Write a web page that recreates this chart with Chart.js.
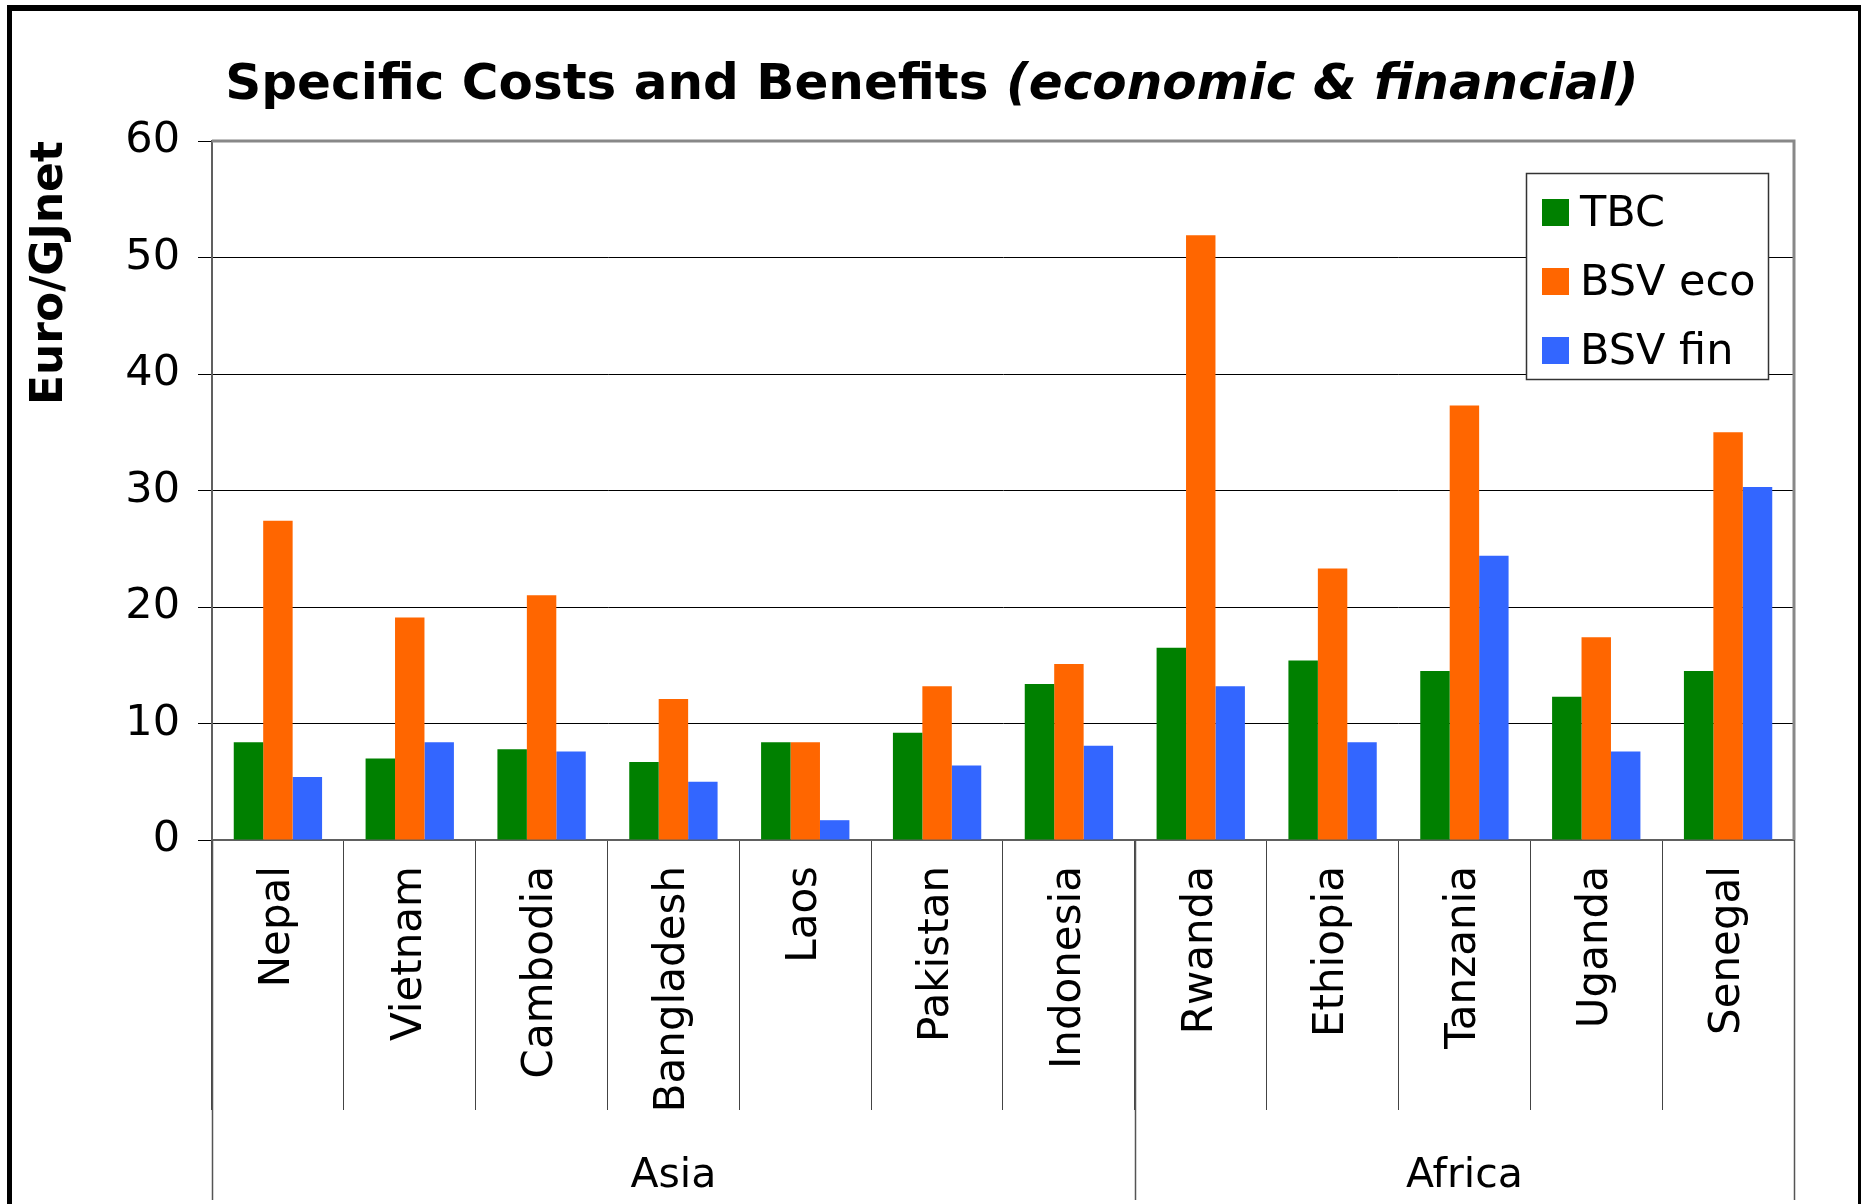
<!DOCTYPE html>
<html><head><meta charset="utf-8">
<script src="https://cdn.jsdelivr.net/npm/chart.js@4.4.1/dist/chart.umd.min.js"></script>
<style>html,body{margin:0;padding:0;background:#fff;} canvas{display:block;}</style>
</head><body>
<canvas id="c" width="1862" height="1204"></canvas>
<script>
// ---- data ----
const categories = ['Nepal','Vietnam','Cambodia','Bangladesh','Laos','Pakistan','Indonesia','Rwanda','Ethiopia','Tanzania','Uganda','Senegal'];
const regions = ['Asia','Africa'];
const regionSizes = [7, 5];
const seriesNames = ['TBC','BSV eco','BSV fin'];
const tbc    = [8.4, 7.0, 7.8, 6.7, 8.4, 9.2, 13.4, 16.5, 15.4, 14.5, 12.3, 14.5];
const bsvEco = [27.4, 19.1, 21.0, 12.1, 8.4, 13.2, 15.1, 51.9, 23.3, 37.3, 17.4, 35.0];
const bsvFin = [5.4, 8.4, 7.6, 5.0, 1.7, 6.4, 8.1, 13.2, 8.4, 24.4, 7.6, 30.3];
const yTicks = [0, 10, 20, 30, 40, 50, 60];
const titleMain = 'Specific Costs and Benefits ';
const titleItalic = '(economic & financial)';
const yTitle = 'Euro/GJnet';

const FONT = "'DejaVu Sans', Verdana, sans-serif";
const colors = ['#008000', '#FF6600', '#3366FF'];

const decorPlugin = {
  id: 'decor',
  beforeDraw(chart) {
    const c = chart.ctx;
    c.save(); c.fillStyle = '#fff'; c.fillRect(0, 0, chart.width, chart.height); c.restore();
  },
  afterDraw(chart) {
    const c = chart.ctx, a = chart.chartArea, xs = chart.scales.x;
    c.save();
    // plot area top / right border
    c.strokeStyle = '#888'; c.lineWidth = 3;
    c.beginPath(); c.moveTo(a.left, a.top); c.lineTo(a.right, a.top); c.lineTo(a.right, a.bottom); c.stroke();

    // region (group) separators and labels
    const half = (xs.getPixelForValue(1) - xs.getPixelForValue(0)) / 2;
    c.strokeStyle = '#555'; c.lineWidth = 1.5;
    c.font = '41px ' + FONT; c.fillStyle = '#000'; c.textAlign = 'center'; c.textBaseline = 'alphabetic';
    let start = 0;
    const bounds = [xs.getPixelForValue(0) - half];
    regionSizes.forEach((n, i) => {
      const x0 = xs.getPixelForValue(start) - half;
      const x1 = xs.getPixelForValue(start + n - 1) + half;
      c.fillText(regions[i], (x0 + x1) / 2, 1187);
      bounds.push(x1);
      start += n;
    });
    bounds.forEach(x => {
      const xx = Math.round(x) + 0.5;
      c.beginPath(); c.moveTo(xx, a.bottom); c.lineTo(xx, 1200); c.stroke();
    });

    // title (bold + bold italic)
    c.textAlign = 'left'; c.textBaseline = 'alphabetic';
    const f1 = 'bold 50px ' + FONT, f2 = 'italic bold 50px ' + FONT;
    c.font = f1; const w1 = c.measureText(titleMain).width;
    c.font = f2; const w2 = c.measureText(titleItalic).width;
    const tx = 932 - (w1 + w2) / 2;
    c.font = f1; c.fillText(titleMain, tx, 99);
    c.font = f2; c.fillText(titleItalic, tx + w1, 99);

    // legend
    const lx = 1526, ly = 173, lw = 242, lh = 206;
    c.fillStyle = '#fff'; c.fillRect(lx, ly, lw, lh);
    c.strokeStyle = '#333'; c.lineWidth = 1.5; c.strokeRect(lx + 0.5, ly + 0.5, lw, lh);
    c.font = '43px ' + FONT; c.textBaseline = 'alphabetic'; c.textAlign = 'left';
    chart.data.datasets.forEach((ds, i) => {
      const y = 199 + i * 69;
      c.fillStyle = ds.backgroundColor; c.fillRect(1542, y, 27, 27);
      c.fillStyle = '#000'; c.fillText(ds.label, 1580, y + 27);
    });

    // outer frame
    c.fillStyle = '#000';
    c.fillRect(7, 5, 1854, 6);
    c.fillRect(7, 5, 5, 1199);
    c.fillRect(1858, 5, 3, 1199);
    c.restore();
  }
};

new Chart(document.getElementById('c').getContext('2d'), {
  type: 'bar',
  data: {
    labels: categories,
    datasets: [
      { label: seriesNames[0], data: tbc, backgroundColor: colors[0] },
      { label: seriesNames[1], data: bsvEco, backgroundColor: colors[1] },
      { label: seriesNames[2], data: bsvFin, backgroundColor: colors[2] }
    ]
  },
  options: {
    responsive: false,
    animation: false,
    layout: { padding: { top: 141, right: 68, bottom: 0, left: 0 } },
    plugins: { legend: { display: false }, title: { display: false }, tooltip: { enabled: false } },
    datasets: { bar: { barPercentage: 1, categoryPercentage: 0.67, borderWidth: 0 } },
    scales: {
      x: {
        grid: { offset: true, drawOnChartArea: false, drawTicks: true, tickLength: 270, color: '#444', lineWidth: 1 },
        border: { display: true, color: '#606060', width: 2 },
        ticks: { minRotation: 90, maxRotation: 90, autoSkip: false, padding: -244, color: '#000', font: { family: FONT, size: 42 } },
        afterFit: s => { s.height = 364; }
      },
      y: {
        min: 0, max: 60,
        afterBuildTicks: s => { s.ticks = yTicks.map(v => ({ value: v })); },
        ticks: { padding: 18, color: '#000', font: { family: FONT, size: 43 } },
        grid: { color: '#000', lineWidth: 1, tickLength: 14, tickColor: '#000', drawTicks: true },
        border: { display: true, color: '#606060', width: 2 },
        title: { display: true, text: yTitle, align: 'end', color: '#000', font: { family: FONT, size: 44, weight: 'bold' }, padding: { top: 24, bottom: 0 } },
        afterFit: s => { s.width = 212; }
      }
    }
  },
  plugins: [decorPlugin]
});
</script>
</body></html>
